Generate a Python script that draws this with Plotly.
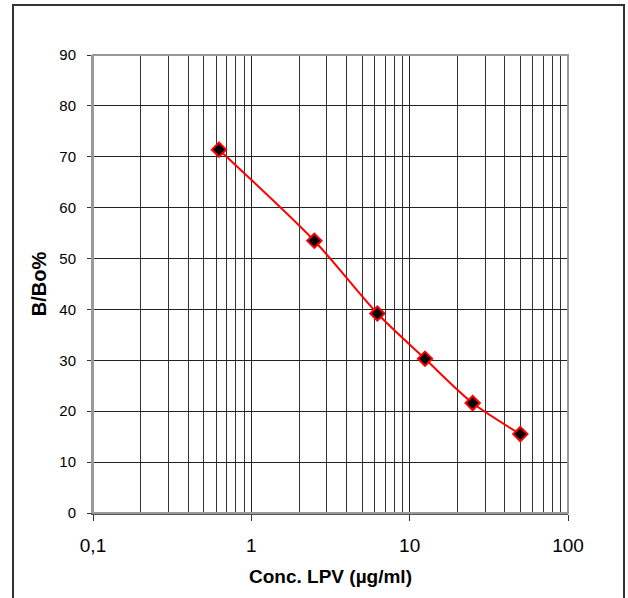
import plotly.graph_objects as go

conc = [0.625, 2.5, 6.25, 12.5, 25, 50]
bbo = [71.4, 53.5, 39.2, 30.3, 21.6, 15.5]
x_tickvals = [0.1, 1, 10, 100]
x_ticktext = ["0,1", "1", "10", "100"]
y_tickvals = [0, 10, 20, 30, 40, 50, 60, 70, 80, 90]

fig = go.Figure()
fig.add_trace(go.Scatter(
    x=conc, y=bbo, mode="lines+markers",
    line=dict(color="#ff0000", width=2, shape="spline", smoothing=0.8),
    marker=dict(symbol="diamond", size=11, color="black",
                line=dict(color="#ff0000", width=2)),
    showlegend=False,
))

font = "Liberation Sans, Arial, sans-serif"
fig.update_layout(
    width=628, height=598,
    margin=dict(l=93, r=60, t=55, b=85),
    paper_bgcolor="white", plot_bgcolor="white",
    font=dict(family=font, color="black"),
    shapes=[dict(type="rect", xref="paper", yref="paper",
                 x0=-0.1684, x1=1.1179, y0=-0.2, y1=1.1092,
                 line=dict(color="#333333", width=2), layer="below")],
)
fig.update_xaxes(
    type="log", range=[-1, 2],
    tickvals=x_tickvals, ticktext=x_ticktext,
    tickfont=dict(size=19),
    ticks="outside", ticklen=6, tickcolor="#333333", tickwidth=1,
    ticklabelstandoff=8,
    showgrid=True, gridcolor="#222222", gridwidth=1,
    minor=dict(dtick="D1", showgrid=True, gridcolor="#333333", gridwidth=1, ticks=""),
    showline=True, linecolor="#555555", linewidth=2, mirror=False,
    title=dict(text="<b>Conc. LPV (µg/ml)</b>", font=dict(size=19), standoff=15),
    zeroline=False,
)
fig.update_yaxes(
    range=[0, 90], tickvals=y_tickvals,
    tickfont=dict(size=15),
    ticks="outside", ticklen=4, tickcolor="#333333",
    ticklabelstandoff=8,
    showgrid=True, gridcolor="#222222", gridwidth=1,
    showline=True, linecolor="#999999", linewidth=2,
    title=dict(text="<b>B/Bo%</b>", font=dict(size=20), standoff=7),
    zeroline=False,
)
fig.add_shape(type="rect", xref="paper", yref="paper", x0=0, x1=1, y0=0, y1=1,
              line=dict(color="#999999", width=2))

fig.write_html("out.html", config={"displayModeBar": False},
               post_script="document.body.style.margin='0';")
